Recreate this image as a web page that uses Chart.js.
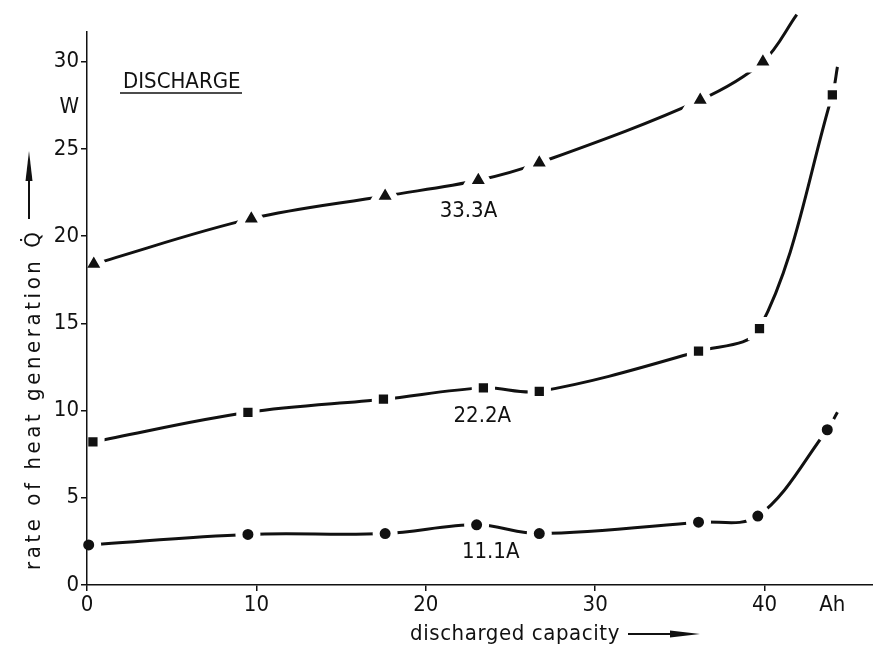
<!DOCTYPE html>
<html>
<head>
<meta charset="utf-8">
<title>Rate of heat generation during discharge</title>
<script src="https://cdn.jsdelivr.net/npm/chart.js@4/dist/chart.umd.min.js"></script>
<style>
  html, body { margin: 0; padding: 0; background: #fff; }
</style>
</head>
<body>
<canvas id="myChart" width="873" height="645"></canvas>
<script>
// discharged capacity (Ah) / heat rate (W);
// the last pair of each series is the curve running on past the last marker
const capacity333 = [0.4, 9.7, 17.6, 23.1, 26.7, 36.2, 39.9, 41.9];
const heat333 = [18.4, 21.0, 22.3, 23.2, 24.2, 27.8, 30.0, 32.7];
const capacity222 = [0.35, 9.5, 17.5, 23.4, 26.7, 36.1, 39.7, 44.0, 44.3];
const heat222 = [8.2, 9.9, 10.65, 11.3, 11.1, 13.4, 14.7, 28.1, 29.7];
const capacity111 = [0.1, 9.5, 17.6, 23.0, 26.7, 36.1, 39.6, 43.7, 44.3];
const heat111 = [2.3, 2.9, 2.95, 3.45, 2.95, 3.6, 3.95, 8.9, 9.9];

const seriesNames = ["33.3A", "22.2A", "11.1A"];
const labelCapacity = [22.5, 23.2, 23.4];
const labelHeat = [21.4, 9.7, 1.9];

const xTickValues = [0, 10, 20, 30, 40, 44];
const xTickLabels = ["0", "10", "20", "30", "40", "Ah"];
const yTickValues = [0, 5, 10, 15, 20, 25, 27.4, 30];
const yTickLabels = ["0", "5", "10", "15", "20", "25", "W", "30"];

const FONT = "'DejaVu Sans Condensed', 'Liberation Sans Narrow', 'DejaVu Sans', sans-serif";
const INK = "#111";

function toPoints(xs, ys) {
    return xs.map((x, i) => ({ x: x, y: ys[i] }));
}

// no marker on the trailing point
function markerSizes(xs, r) {
    return xs.map((_, i) => (i === xs.length - 1 ? 0 : r));
}

function series(xs, ys, style, r) {
    return {
        data: toPoints(xs, ys),
        borderColor: INK,
        borderWidth: 3,
        tension: 0.35,
        clip: false,
        pointStyle: style,
        pointRadius: markerSizes(xs, r),
        pointHoverRadius: markerSizes(xs, r),
        pointBackgroundColor: INK,
        pointBorderColor: "#fff",
        pointBorderWidth: 7,
    };
}

// spread a string out to a given width, like the lettering on the drawing
function spaced(ctx, text, x, y, width) {
    ctx.letterSpacing = "0px";
    const w = ctx.measureText(text).width;
    const n = Array.from(text).length;
    ctx.letterSpacing = Math.max(0, (width - w) / n) + "px";
    ctx.textAlign = "left";
    ctx.fillText(text, x, y);
    ctx.letterSpacing = "0px";
    return x + width;
}

function arrow(ctx, len) {
    // drawn along +x from the origin
    ctx.beginPath();
    ctx.lineWidth = 2;
    ctx.moveTo(0, 0);
    ctx.lineTo(len - 26, 0);
    ctx.stroke();
    ctx.beginPath();
    ctx.moveTo(len - 30, -3.5);
    ctx.lineTo(len, 0);
    ctx.lineTo(len - 30, 3.5);
    ctx.closePath();
    ctx.fill();
}

const lettering = {
    id: "lettering",
    afterDraw(chart) {
        const ctx = chart.ctx;
        const xs = chart.scales.x;
        const ys = chart.scales.y;
        ctx.save();
        ctx.fillStyle = INK;
        ctx.strokeStyle = INK;
        ctx.font = "22px " + FONT;
        ctx.textBaseline = "middle";

        const widths = [57, 53, 43];
        seriesNames.forEach((name, i) => {
            const cx = xs.getPixelForValue(labelCapacity[i]);
            const cy = ys.getPixelForValue(labelHeat[i]);
            spaced(ctx, name, cx - widths[i] / 2, cy, widths[i]);
        });

        // heading
        ctx.textBaseline = "alphabetic";
        spaced(ctx, "DISCHARGE", 123, 88, 110);
        ctx.beginPath();
        ctx.lineWidth = 1.5;
        ctx.moveTo(120, 93);
        ctx.lineTo(242, 93);
        ctx.stroke();

        // x title
        const xEnd = spaced(ctx, "discharged capacity", 410, 640, 210);
        ctx.save();
        ctx.translate(xEnd + 8, 634);
        arrow(ctx, 72);
        ctx.restore();

        // y title, running upwards
        ctx.save();
        ctx.translate(40, 570);
        ctx.rotate(-Math.PI / 2);
        const yEnd = spaced(ctx, "rate of heat generation Q\u0307", 0, 0, 345);
        ctx.translate(yEnd + 6, -11);
        arrow(ctx, 68);
        ctx.restore();

        ctx.restore();
    },
};

Chart.defaults.font.family = FONT;
Chart.defaults.color = INK;

const ctx = document.getElementById("myChart");

new Chart(ctx, {
    type: "line",
    data: {
        datasets: [
            series(capacity333, heat333, "triangle", 14.5),
            series(capacity222, heat222, "rect", 11.5),
            series(capacity111, heat111, "circle", 9),
        ],
    },
    options: {
        responsive: false,
        animation: false,
        events: [],
        layout: {
            autoPadding: false,
            padding: { top: 32, right: 0, left: 0, bottom: 0 },
        },
        plugins: {
            legend: { display: false },
            tooltip: { enabled: false },
        },
        scales: {
            x: {
                type: "linear",
                min: 0,
                max: 46.4,
                afterBuildTicks: (scale) => {
                    scale.ticks = xTickValues.map((v) => ({ value: v }));
                },
                afterFit: (scale) => {
                    scale.height = 60;
                    scale.paddingLeft = 0;
                    scale.paddingRight = 0;
                },
                ticks: {
                    font: { size: 22 },
                    padding: 1,
                    maxRotation: 0,
                    autoSkip: false,
                    callback: (value, index) => xTickLabels[index],
                },
                grid: {
                    z: 1,
                    drawOnChartArea: false,
                    tickLength: 6,
                    lineWidth: 1.5,
                    color: (c) => (c.tick && c.tick.value === 44 ? "rgba(0,0,0,0)" : INK),
                },
                border: { z: 1, color: INK, width: 1.5 },
            },
            y: {
                min: 0,
                max: 31.7,
                afterBuildTicks: (scale) => {
                    scale.ticks = yTickValues.map((v) => ({ value: v }));
                },
                afterFit: (scale) => {
                    scale.width = 87;
                    scale.paddingTop = 0;
                    scale.paddingBottom = 0;
                },
                ticks: {
                    font: { size: 22 },
                    padding: 2,
                    autoSkip: false,
                    callback: (value, index) => yTickLabels[index],
                },
                grid: {
                    z: 1,
                    drawOnChartArea: false,
                    tickLength: 6,
                    lineWidth: 1.5,
                    color: (c) => (c.tick && c.tick.value === 27.4 ? "rgba(0,0,0,0)" : INK),
                },
                border: { z: 1, color: INK, width: 1.5 },
            },
        },
    },
    plugins: [lettering],
});
</script>
</body>
</html>
